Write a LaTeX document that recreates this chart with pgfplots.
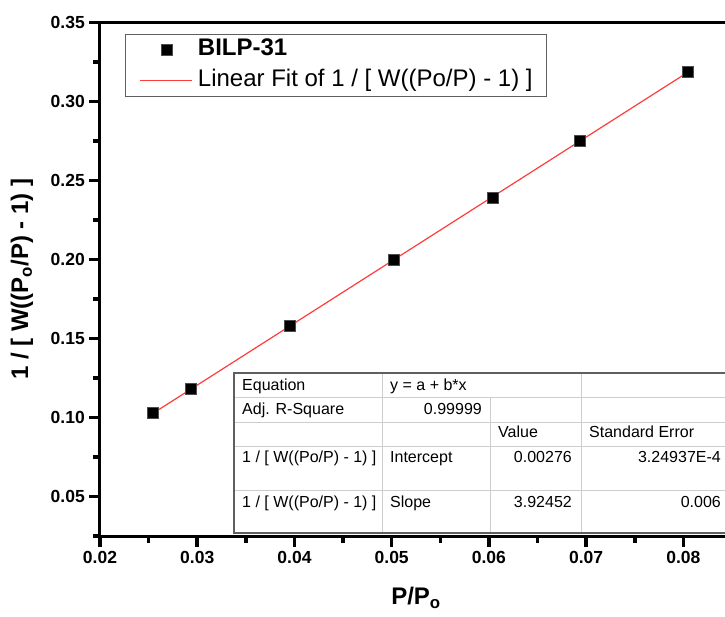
\documentclass[border=0pt]{standalone}
\usepackage{fontspec}
\setmainfont{Liberation Sans}
\usepackage{pgfplots}
\pgfplotsset{compat=1.18}
\definecolor{fitred}{RGB}{255,60,60}
\definecolor{tabline}{RGB}{205,205,205}
\definecolor{tabborder}{RGB}{95,95,95}
\pgfplotsset{
  markleg/.style={legend image code/.code={\draw[mark repeat=2, mark phase=2, ##1] plot coordinates {(0pt,0pt) (27pt,0pt) (54pt,0pt)};}},
  lineleg/.style={legend image code/.code={\draw[##1] (0pt,0pt) -- (52pt,0pt);}},
}
\begin{document}
\begin{tikzpicture}
\begin{axis}[
  name=ax,
  at={(0pt,0pt)}, anchor=south west,
  scale only axis,
  width=632pt, height=513.5pt,
  xmin=0.02, xmax=0.085,
  ymin=0.025, ymax=0.35,
  axis line style={line width=3pt},
  xtick={0.02,0.03,0.04,0.05,0.06,0.07,0.08},
  ytick={0.05,0.10,0.15,0.20,0.25,0.30,0.35},
  scaled x ticks=false, scaled y ticks=false,
  minor x tick num=1, minor y tick num=1,
  tick align=outside,
  xtick pos=bottom, ytick pos=left,
  major tick length=9pt, minor tick length=5pt,
  tick style={black, line width=2.5pt},
  /pgf/number format/assume math mode=true,
  /pgf/number format/fixed,
  /pgf/number format/fixed zerofill,
  /pgf/number format/precision=2,
  tick label style={font=\bfseries\fontsize{17.5}{20}\selectfont},
  yticklabel style={inner sep=6pt},
  xticklabel style={inner sep=6pt},
  xlabel={P/P\textsubscript{o}},
  ylabel={1 / [ W((P\textsubscript{o}/P) - 1) ]},
  label style={font=\bfseries\fontsize{24}{28}\selectfont},
  xlabel style={at={(axis description cs:0.5,-0.134)}, anchor=base},
  ylabel style={at={(axis description cs:-0.1234,0.5)}, anchor=center},
  legend cell align=left,
  legend style={at={(axis description cs:0.0396,0.9776)}, anchor=north west,
    draw=tabborder, fill=white,
    font=\fontsize{24}{28}\selectfont,
    inner xsep=14pt, inner ysep=0pt, row sep=0pt,
    nodes={inner xsep=0pt, inner ysep=4pt, text height=17pt, text depth=6pt},
    /tikz/every odd column/.style={column sep=5.5pt}},
]
\addplot[only marks, mark=square*, mark size=5.5pt,
  mark options={fill=black, draw=black!70, line width=0.6pt}, markleg]
  coordinates {
  (0.02545,0.1032)
  (0.02936,0.1184)
  (0.03955,0.1582)
  (0.05025,0.2000)
  (0.06043,0.2392)
  (0.06938,0.2753)
  (0.08050,0.3187)
  };
\addlegendentry{\textbf{BILP-31}}
\addplot[fitred, line width=1.2pt, lineleg]
  coordinates {(0.02545,0.10264) (0.08050,0.31868)};
\addlegendentry{Linear Fit of 1 / [ W((Po/P) - 1) ]}
\end{axis}
% thick outward ticks (overdrawn on the axis ticks)
\begin{scope}[black, line width=3.6pt]
  \foreach \i in {0,...,6} {
    \draw ({\i*97.2308pt},0pt) -- ++(0pt,-10.5pt);
    \draw ({48.6154pt+\i*97.2308pt},0pt) -- ++(0pt,-6.5pt);
    \draw (0pt,{39.5pt+\i*79pt}) -- ++(-10.5pt,0pt);
    \draw (0pt,{\i*79pt}) -- ++(-6.5pt,0pt);
  }
\end{scope}
% results table
\fill[white] (134pt,3pt) rectangle (640pt,163pt);
\begin{scope}[tabline, line width=1pt]
  \foreach \yy in {139,114,90,46} {\draw (134pt,\yy pt) -- (640pt,\yy pt);}
  \draw (282pt,3pt) -- (282pt,163pt);
  \draw (390pt,3pt) -- (390pt,139pt);
  \draw (481pt,3pt) -- (481pt,163pt);
\end{scope}
\draw[tabborder, line width=1.6pt] (640pt,163pt) -- (134pt,163pt) -- (134pt,3pt) -- (640pt,3pt);
\begin{scope}[every node/.style={font=\fontsize{16}{19}\selectfont, inner sep=0pt}]
  \node[anchor=base west] at (142pt,146pt) {Equation};
  \node[anchor=base west] at (290pt,146pt) {y = a + b*x};
  \node[anchor=base west] at (142pt,122pt) {Adj. R-Square};
  \node[anchor=base east] at (382pt,122pt) {0.99999};
  \node[anchor=base west] at (398pt,99pt) {Value};
  \node[anchor=base west] at (489pt,99pt) {Standard Error};
  \node[anchor=base west] at (142pt,74pt) {1 / [ W((Po/P) - 1) ]};
  \node[anchor=base west] at (290pt,74pt) {Intercept};
  \node[anchor=base east] at (472pt,74pt) {0.00276};
  \node[anchor=base east] at (621pt,74pt) {3.24937E-4};
  \node[anchor=base west] at (142pt,29pt) {1 / [ W((Po/P) - 1) ]};
  \node[anchor=base west] at (290pt,29pt) {Slope};
  \node[anchor=base east] at (472pt,29pt) {3.92452};
  \node[anchor=base east] at (621pt,29pt) {0.006};
\end{scope}
\pgfresetboundingbox
\useasboundingbox (-100pt,-80pt) rectangle (625pt,536pt);
\end{tikzpicture}
\end{document}
